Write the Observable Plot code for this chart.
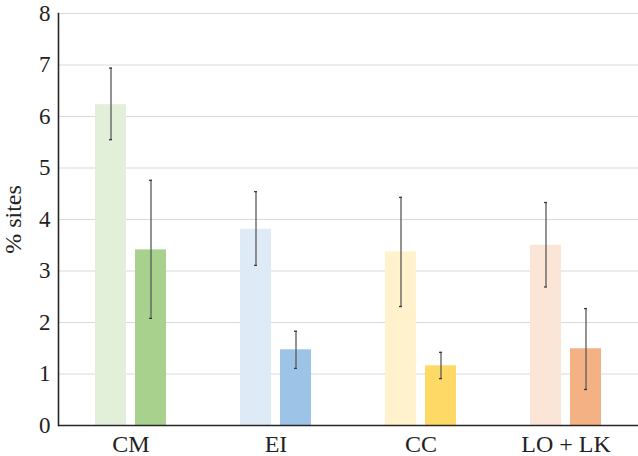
<!DOCTYPE html>
<html>
<head>
<meta charset="utf-8">
<script src="https://cdn.jsdelivr.net/npm/d3@7"></script>
<script src="https://cdn.jsdelivr.net/npm/@observablehq/plot@0.6"></script>
<style>
  html, body { margin: 0; padding: 0; background: #fff; }
  svg text { font-family: "Liberation Serif", serif; }
</style>
</head>
<body>
<div id="chart"></div>
<script>
// ---- data ----
const groups = ["CM", "EI", "CC", "LO + LK"];
const series = ["light", "dark"];
const lightValues = [6.23, 3.81, 3.37, 3.50];
const lightLow    = [5.55, 3.11, 2.31, 2.69];
const lightHigh   = [6.94, 4.54, 4.43, 4.33];
const darkValues  = [3.41, 1.47, 1.16, 1.49];
const darkLow     = [2.08, 1.11, 0.91, 0.70];
const darkHigh    = [4.76, 1.83, 1.42, 2.27];
const yTicks = [0, 1, 2, 3, 4, 5, 6, 7, 8];

// palette (colour scale range)
const lightPalette = ["#e2efd9", "#deebf7", "#fff2cc", "#fbe5d6"];
const darkPalette  = ["#a9d18e", "#9dc3e6", "#ffd966", "#f4b183"];

const rows = [];
groups.forEach((g, i) => {
  rows.push({group: g, series: "light", key: g + "|light", value: lightValues[i], low: lightLow[i], high: lightHigh[i]});
  rows.push({group: g, series: "dark", key: g + "|dark", value: darkValues[i], low: darkLow[i], high: darkHigh[i]});
});
const colorDomain = groups.flatMap(g => [g + "|light", g + "|dark"]);
const colorRange = groups.flatMap((g, i) => [lightPalette[i], darkPalette[i]]);

const chart = Plot.plot({
  width: 638,
  height: 456,
  marginLeft: 58,
  marginRight: 0,
  marginTop: 13,
  marginBottom: 31,
  style: {fontFamily: "Liberation Serif", fontSize: "23px", color: "#222", background: "#fff"},
  fx: {domain: groups, padding: 0, label: null},
  x: {domain: series, axis: null, paddingInner: 0.22, paddingOuter: 0.88},
  y: {domain: [0, 8], ticks: yTicks, tickFormat: "d"},
  color: {domain: colorDomain, range: colorRange},
  marks: [
    Plot.gridY(yTicks, {stroke: "#d9d9d9", strokeOpacity: 1, strokeWidth: 1}),
    Plot.barY(rows, {fx: "group", x: "series", y: "value", fill: "key"}),
    Plot.ruleX(rows, {fx: "group", x: "series", y1: "low", y2: "high", stroke: "#5a5a5a", strokeWidth: 1.3}),
    Plot.tickY(rows, {fx: "group", x: "series", y: "low", stroke: "#3a3a3a", strokeWidth: 1.3, insetLeft: 14, insetRight: 14}),
    Plot.tickY(rows, {fx: "group", x: "series", y: "high", stroke: "#3a3a3a", strokeWidth: 1.3, insetLeft: 14, insetRight: 14}),
    Plot.ruleY([0], {stroke: "#262626", strokeWidth: 1.6}),
    Plot.frame({anchor: "left", facetAnchor: "left", stroke: "#262626", strokeWidth: 1.6}),
    Plot.axisY(yTicks, {tickSize: 0, tickPadding: 8, tickFormat: "d", fontSize: 23, label: null}),
    Plot.axisY({tickSize: 0, ticks: [], label: "% sites", labelAnchor: "center", labelArrow: "none", labelOffset: 55, fontSize: 24}),
    Plot.axisFx({anchor: "bottom", tickSize: 0, tickPadding: 9, label: null, fontSize: 24})
  ]
});
document.getElementById("chart").appendChild(chart);
</script>
</body>
</html>
